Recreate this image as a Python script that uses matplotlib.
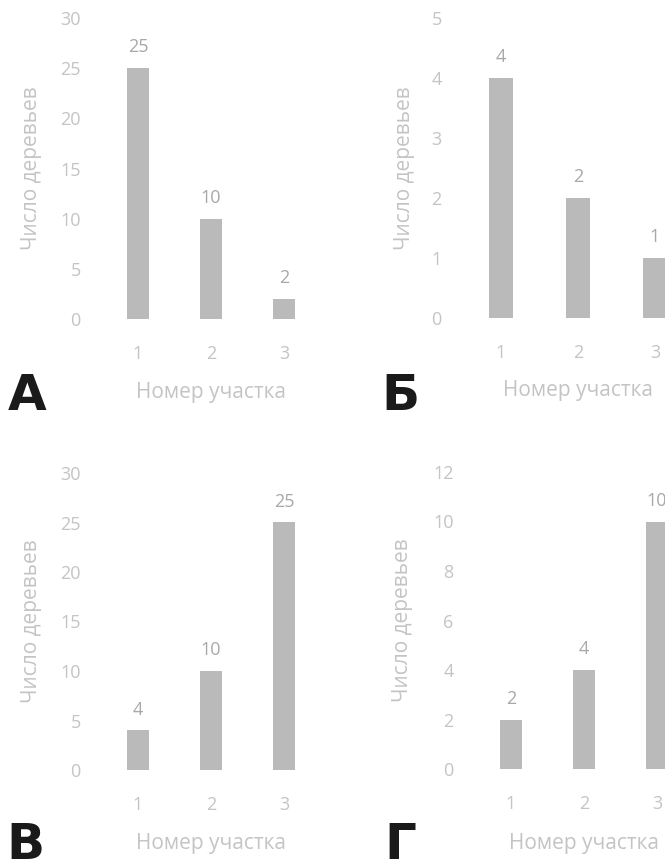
import numpy as np
import matplotlib
matplotlib.use("Agg")
import matplotlib.pyplot as plt

# data
plots = [1, 2, 3]
a_vals = [25, 10, 2]
b_vals = [4, 2, 1]
v_vals = [4, 10, 25]
g_vals = [2, 4, 10]

letters = ["А", "Б", "В", "Г"]
ymax = [30, 5, 30, 12]
ystep = [5, 1, 5, 2]

plt.rcParams['font.family'] = ['Open Sans', 'DejaVu Sans']

W, H = 665., 863.
fig = plt.figure(figsize=(W / 100, H / 100), dpi=100)
fig.patch.set_facecolor("white")

# axes boxes in pixels: left, top(ymax), width, bottom(0)
boxes = [(101.5, 18, 219, 319),
         (462.5, 18, 231, 318),
         (101.5, 473, 219, 770),
         (474.5, 472, 219, 769)]
ylab_x = [-0.272, -0.206, -0.272, -0.281]
xlab_off = [63, 62, 63, 64]
# baseline positions of the panel letters
letter_pos = [(27, 410), (400, 410), (25, 859), (400, 859)]

txt = "#c4c4c4"
bar_col = "#bababa"

for i, vals in enumerate([a_vals, b_vals, v_vals, g_vals]):
    l, t, w, b = boxes[i]
    ax = fig.add_axes([l / W, (H - b) / H, w / W, (b - t) / H])
    ax.bar(plots, vals, width=0.3, color=bar_col)
    for x, v in zip(plots, vals):
        ax.annotate(str(v), (x, v), xytext=(0, 15), textcoords="offset points",
                    ha="center", va="center", fontsize=13, color="#a8a8a8")
    ax.set_xlim(0.5, 3.5)
    ax.set_ylim(0, ymax[i])
    ax.set_yticks(np.arange(0, ymax[i] + 1, ystep[i]))
    ax.set_xticks(plots)
    for s in ax.spines.values():
        s.set_visible(False)
    ax.tick_params(length=0, colors=txt, labelsize=13)
    ax.tick_params(axis="y", pad=15)
    ax.tick_params(axis="x", pad=19)
    ax.set_ylabel("Число деревьев", fontsize=15, color=txt)
    ax.yaxis.set_label_coords(ylab_x[i], 0.5)
    ax.set_xlabel("Номер участка", fontsize=15, color=txt)
    ax.xaxis.set_label_coords(0.5, -float(xlab_off[i]) / (b - t))
    ax.patch.set_alpha(0)
    lx, ly = letter_pos[i]
    fig.text(lx / W, 1 - ly / H, letters[i], fontsize=36, fontweight="bold",
             ha="center", va="baseline", color="#1a1a1a", family="DejaVu Sans")

plt.savefig("out.png", dpi=100)
